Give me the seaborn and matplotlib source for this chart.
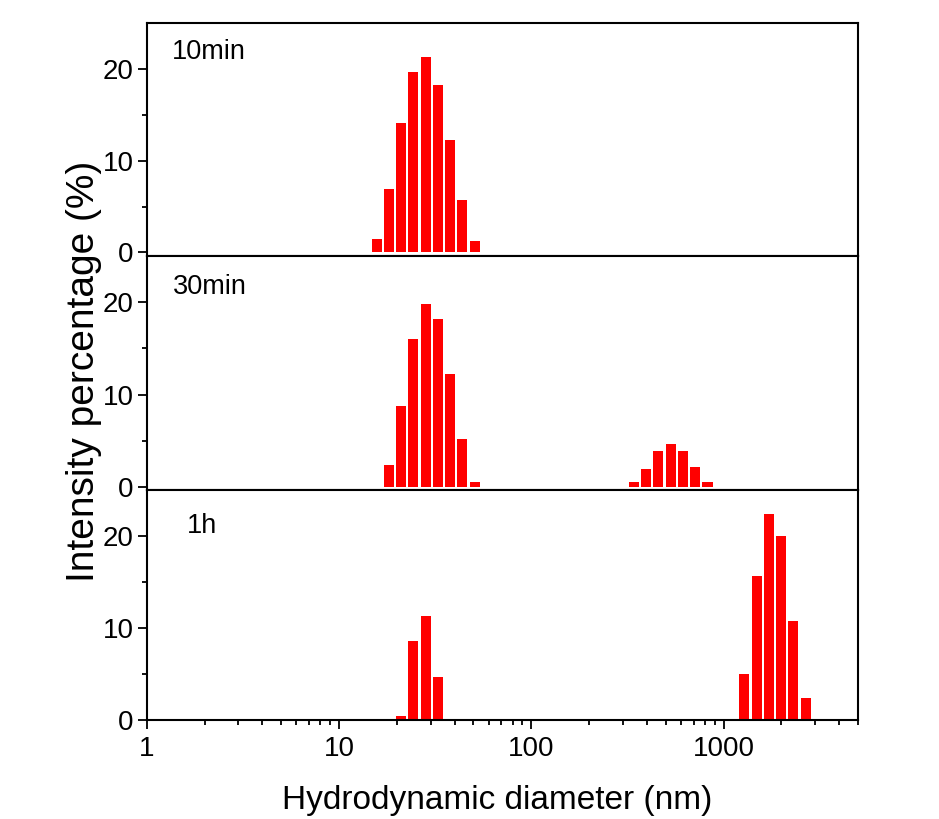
import numpy as np
import pandas as pd
import matplotlib
matplotlib.use("Agg")
import matplotlib.pyplot as plt
import seaborn as sns
from matplotlib.ticker import FixedLocator, FixedFormatter, NullFormatter

# DLS size bins (nm) and intensity (%)
size_10min = [15.69, 18.17, 21.04, 24.36, 28.21, 32.67, 37.84, 43.82, 50.75]
int_10min = [1.5, 6.9, 14.1, 19.6, 21.3, 18.2, 12.2, 5.7, 1.3]

size_30min = [18.17, 21.04, 24.36, 28.21, 32.67, 37.84, 43.82, 50.75,
              342.0, 396.1, 458.7, 531.2, 615.1, 712.4, 825.0]
int_30min = [2.4, 8.8, 16.0, 19.8, 18.2, 12.2, 5.2, 0.6,
             0.5, 2.0, 3.9, 4.7, 3.9, 2.2, 0.6]

size_1h = [21.04, 24.36, 28.21, 32.67, 1281, 1484, 1718, 1990, 2305, 2669]
int_1h = [0.4, 8.6, 11.3, 4.7, 5.0, 15.6, 22.4, 20.0, 10.8, 2.4]

panel_names = ["10min", "30min", "1h"]
x_ticks = [1, 10, 100, 1000]
x_ticklabels = ["1", "10", "100", "1000"]

sns.set_style("ticks")
plt.rcParams["font.family"] = ["Liberation Sans", "DejaVu Sans"]
plt.rcParams["text.color"] = "black"
plt.rcParams["axes.labelcolor"] = "black"
plt.rcParams["xtick.color"] = "black"
plt.rcParams["ytick.color"] = "black"

fig, axs = plt.subplots(3, 1, figsize=(9.39, 8.19), dpi=100,
                        gridspec_kw=dict(hspace=0, height_ratios=[233, 234, 230]))
fig.subplots_adjust(left=0.1562, right=0.9137, top=0.9723, bottom=0.1209)

panels = [(size_10min, int_10min), (size_30min, int_30min), (size_1h, int_1h)]
ylims = [(-0.36, 25), (-0.3, 25), (0, 25)]
label_pos = [(0.035, 0.874), (0.037, 0.867), (0.056, 0.845)]

for i, (sizes, vals) in enumerate(panels):
    ax = axs[i]
    df = pd.DataFrame({"size": sizes, "intensity": vals})
    sns.barplot(data=df, x="size", y="intensity", ax=ax, native_scale=True,
                log_scale=(True, False), color="#ff0000", saturation=1,
                errorbar=None, width=0.82, edgecolor="none")
    ax.set_xlim(1, 5000)
    ax.set_ylim(*ylims[i])
    ax.set_xlabel("")
    ax.set_ylabel("")
    ax.yaxis.set_major_locator(FixedLocator([0, 10, 20]))
    ax.yaxis.set_minor_locator(FixedLocator([5, 15]))
    ax.tick_params(axis="y", which="major", length=6.5, width=1.3,
                   labelsize=20, pad=3, direction="out")
    ax.tick_params(axis="y", which="minor", length=3.6, width=1.3, direction="out")
    for sp in ax.spines.values():
        sp.set_linewidth(1.5)
        sp.set_color("black")
    ax.text(label_pos[i][0], label_pos[i][1], panel_names[i], transform=ax.transAxes,
            fontsize=19.5, ha="left", va="center")
    if i < 2:
        ax.tick_params(axis="x", which="both", bottom=False, labelbottom=False)
    else:
        ax.xaxis.set_major_locator(FixedLocator(x_ticks))
        ax.xaxis.set_major_formatter(FixedFormatter(x_ticklabels))
        ax.xaxis.set_minor_formatter(NullFormatter())
        ax.tick_params(axis="x", which="major", length=6.5, width=1.3,
                       labelsize=20, pad=5, direction="out")
        ax.tick_params(axis="x", which="minor", length=3.6, width=1.3, direction="out")

fig.text(0.089, 0.546, "Intensity percentage (%)", rotation=90, fontsize=28,
         ha="center", va="center")
fig.text(0.53, 1 - 801 / 819, "Hydrodynamic diameter (nm)", fontsize=24,
         ha="center", va="center")

fig.savefig("out.png", dpi=100, facecolor="white")
